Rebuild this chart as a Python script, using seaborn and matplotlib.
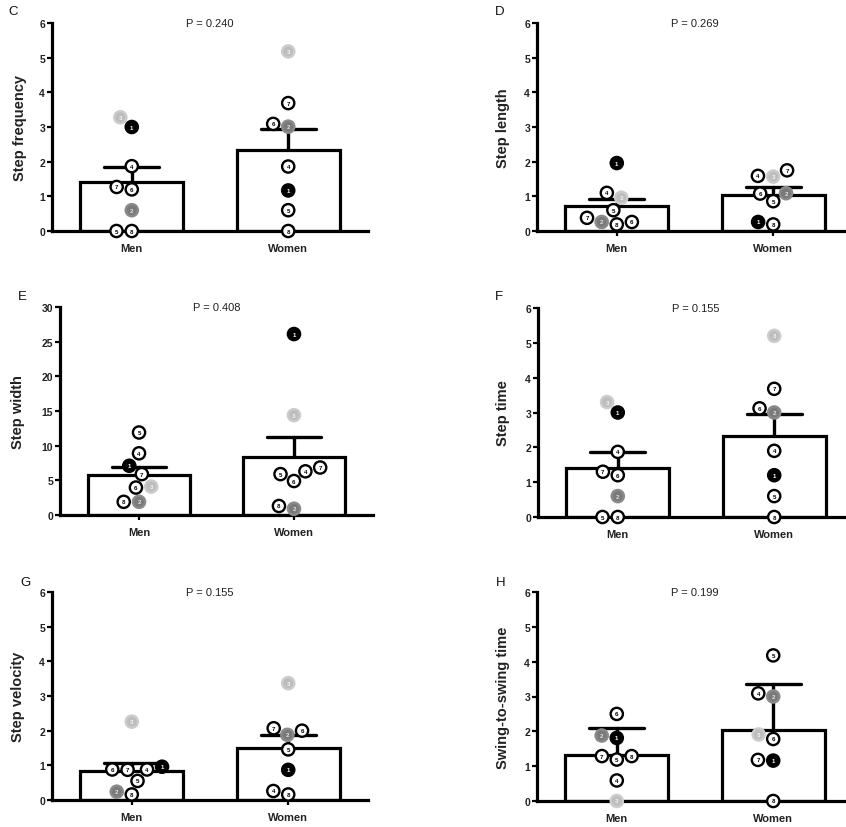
import numpy as np
import pandas as pd
import matplotlib
matplotlib.use("Agg")
import matplotlib.pyplot as plt
import seaborn as sns

# ---------------- data ----------------
groups = ["Men", "Women"]
subject_ids = ["1", "2", "3", "4", "5", "6", "7", "8"]

step_frequency_men = [3.00, 0.60, 3.28, 1.87, 0.00, 1.20, 1.27, 0.00]
step_frequency_women = [1.17, 3.01, 5.18, 1.86, 0.60, 3.09, 3.69, 0.00]
step_length_men = [1.96, 0.26, 0.96, 1.10, 0.60, 0.26, 0.38, 0.19]
step_length_women = [0.26, 1.09, 1.57, 1.59, 0.86, 1.08, 1.75, 0.19]
step_width_men = [7.1, 1.9, 4.1, 8.9, 11.9, 3.96, 5.9, 1.9]
step_width_women = [26.1, 0.9, 14.4, 6.3, 5.9, 4.9, 6.85, 1.3]
step_time_men = [3.00, 0.60, 3.30, 1.87, 0.00, 1.20, 1.30, 0.00]
step_time_women = [1.20, 3.00, 5.20, 1.90, 0.60, 3.12, 3.68, 0.00]
step_velocity_men = [0.96, 0.24, 2.26, 0.88, 0.55, 0.88, 0.87, 0.16]
step_velocity_women = [0.87, 1.88, 3.37, 0.26, 1.46, 2.00, 2.07, 0.16]
swing_time_men = [1.81, 1.88, 0.00, 0.59, 1.19, 2.50, 1.29, 1.29]
swing_time_women = [1.16, 3.00, 1.91, 3.09, 4.18, 1.78, 1.18, 0.00]

panel_letters = ["C", "D", "E", "F", "G", "H"]
y_labels = ["Step frequency", "Step length", "Step width",
            "Step time", "Step velocity", "Swing-to-swing time"]
p_labels = ["P = 0.240", "P = 0.269", "P = 0.408",
            "P = 0.155", "P = 0.155", "P = 0.199"]
error_kind = ["se", "se", "se", "se", "se", "sd"]
y_max = [6, 6, 30, 6, 6, 6]
y_step = [1, 1, 5, 1, 1, 1]
men_values = [step_frequency_men, step_length_men, step_width_men,
              step_time_men, step_velocity_men, swing_time_men]
women_values = [step_frequency_women, step_length_women, step_width_women,
                step_time_women, step_velocity_women, swing_time_women]

# ---------------- style ----------------
sns.set_style("ticks")
plt.rcParams["font.family"] = ["Liberation Sans", "DejaVu Sans"]

face = {"1": "#000000", "2": "#7a7a7a", "3": "#bdbdbd"}
edge = {"1": "#000000", "2": "#8a8a8a", "3": "#cccccc"}
txtc = {"1": "#ffffff", "2": "#e0e0e0", "3": "#f4f4f4"}

W, H = 846, 828
fig = plt.figure(figsize=(W / 100, H / 100), dpi=100)

# axes geometry in pixels: left, top, bottom, width
geom = [(52, 24, 232, 316), (537, 24, 232, 316),
        (60, 308, 516, 313), (538, 309, 518, 316),
        (52, 593, 801, 316), (537, 593, 802, 316)]
letter_pos = [(13, 12), (500, 12), (22, 297), (499, 297), (25, 583), (501, 583)]
ylabel_off = [32, 34, 42, 35, 34, 34]

axes_info = []
for i in range(6):
    l, t, b, w = geom[i]
    ax = fig.add_axes([l / W, 1 - b / H, w / W, (b - t) / H])
    df = pd.DataFrame({
        "group": [groups[0]] * 8 + [groups[1]] * 8,
        "id": subject_ids + subject_ids,
        "value": list(men_values[i]) + list(women_values[i]),
    })
    sns.barplot(data=df, x="group", y="value", order=groups,
                errorbar=error_kind[i], capsize=0.35, width=0.66,
                color="white", saturation=1, edgecolor="black", linewidth=2.3,
                err_kws={"color": "black", "linewidth": 2.4, "zorder": 0.5},
                ax=ax)
    pal = {k: face.get(k, "#ffffff") for k in subject_ids}
    sns.swarmplot(data=df, x="group", y="value", order=groups, hue="id",
                  palette=pal, size=8.8, linewidth=1.7, edgecolor="black",
                  legend=False, ax=ax, zorder=4, clip_on=False)
    ax.set_xlim(-0.51, 1.51)
    ax.set_ylim(0, y_max[i])
    ax.set_yticks(np.arange(0, y_max[i] + 0.001, y_step[i]))
    ax.set_xlabel("")
    ax.set_ylabel(y_labels[i], fontsize=10.5, fontweight="bold", color="#222222",
                  va="center")
    ax.yaxis.set_label_coords(-ylabel_off[i] / w, 0.5)
    for s in ["top", "right"]:
        ax.spines[s].set_visible(False)
    for s in ["left", "bottom"]:
        ax.spines[s].set_linewidth(2.3)
        ax.spines[s].set_color("black")
    ax.tick_params(axis="y", length=3.5, width=1.6, pad=1.5, labelsize=7.5,
                   labelcolor="#222222", color="black")
    ax.tick_params(axis="x", length=3.5, width=1.6, pad=5, labelsize=8,
                   labelcolor="#222222", color="black")
    for lab in ax.get_xticklabels() + ax.get_yticklabels():
        lab.set_fontweight("bold")
    ax.text(0.5, 1.0, p_labels[i], transform=ax.transAxes, ha="center",
            va="center", fontsize=8, color="#222222")
    fig.text(letter_pos[i][0] / W, 1 - letter_pos[i][1] / H, panel_letters[i],
             ha="center", va="center", fontsize=9.5, color="#111111")
    axes_info.append((ax, df))

fig.canvas.draw()

for ax, df in axes_info:
    for coll in ax.collections:
        offs = np.asarray(coll.get_offsets())
        if len(offs) == 0:
            continue
        gi = int(round(float(np.mean(offs[:, 0]))))
        sub = df[df["group"] == groups[gi]].reset_index(drop=True)
        used = set()
        ids = []
        for (xv, yv) in offs:
            best, bestd = None, 1e9
            for j in range(len(sub)):
                if j in used:
                    continue
                d = abs(sub.loc[j, "value"] - yv)
                if d < bestd:
                    best, bestd = j, d
            used.add(best)
            ids.append(sub.loc[best, "id"])
        coll.set_facecolors([face.get(k, "#ffffff") for k in ids])
        coll.set_edgecolors([edge.get(k, "#000000") for k in ids])
        for (xv, yv), k in zip(offs, ids):
            ax.text(xv, yv, k, ha="center", va="center", fontsize=4.4,
                    fontweight="bold", color=txtc.get(k, "#000000"),
                    zorder=6, clip_on=False)

fig.savefig("out.png", dpi=100)
